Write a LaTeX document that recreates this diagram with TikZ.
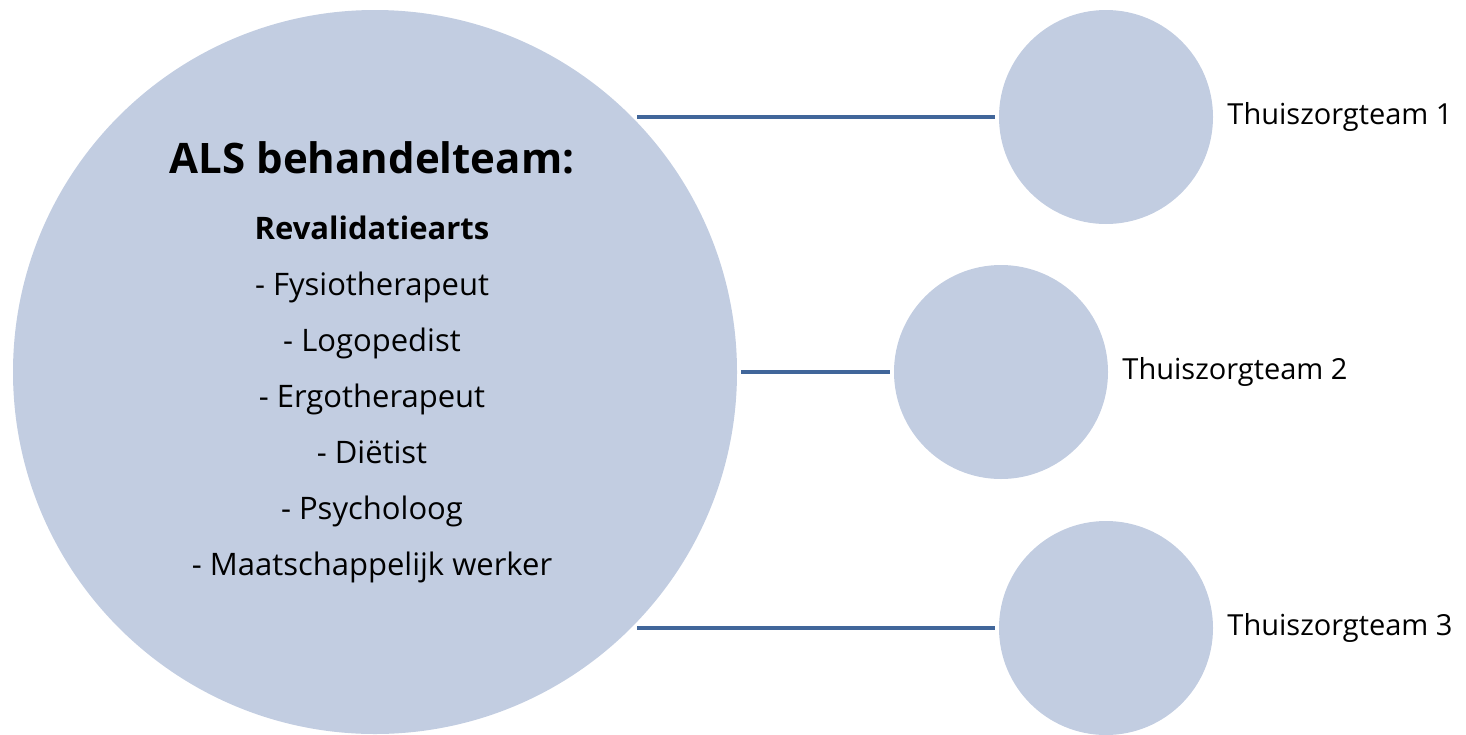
\documentclass[tikz,border=0pt]{standalone}
\usepackage{fontspec}
\setmainfont{Open Sans}
\usetikzlibrary{positioning}
\definecolor{cirkelblauw}{HTML}{C2CDE1}
\definecolor{lijnblauw}{HTML}{41669A}
\tikzset{
	grotecirkel/.style={
		circle,
		fill=cirkelblauw,
		minimum size=362pt,
		inner sep=0pt},
	kleinecirkel/.style={
		circle,
		fill=cirkelblauw,
		minimum size=107pt,
		inner sep=0pt},
	teamlabel/.style={font=\fontsize{14.5}{17}\selectfont},
	line/.style={draw=lijnblauw, line width=2pt},
}

\begin{document}
\begin{tikzpicture}
	[x=0.5pt, y=-0.5pt]
	\useasboundingbox (0,0) rectangle (1466,734);
	
	\node[grotecirkel] (als) at (375,372) {};
	\node[align=center, font=\fontsize{15.5}{28}\selectfont] (alstekst) at (372,362)
		{{\fontsize{21}{22}\selectfont\bfseries ALS behandelteam:}\\[5pt]
		 \textbf{Revalidatiearts}\\
		 - Fysiotherapeut\\
		 - Logopedist\\
		 - Ergotherapeut\\
		 - Diëtist\\
		 - Psycholoog\\
		 - Maatschappelijk werker};
	
	\node[kleinecirkel] (team1) at (1106,117) {};
	\node[kleinecirkel] (team2) at (1001,372) {};
	\node[kleinecirkel] (team3) at (1106,628) {};
	
	\node[teamlabel, right=3.5pt of team1] (label1) {Thuiszorgteam 1};
	\node[teamlabel, right=3.5pt of team2] (label2) {Thuiszorgteam 2};
	\node[teamlabel, right=3.5pt of team3] (label3) {Thuiszorgteam 3};
	
	\draw[line, shorten <=3pt, shorten >=2pt] (als.45 |- team1.west) -- (team1.west);
	\draw[line, shorten <=2pt, shorten >=2pt] (als.east) -- (team2.west);
	\draw[line, shorten <=3pt, shorten >=2pt] (als.-45 |- team3.west) -- (team3.west);
	
\end{tikzpicture}
\end{document}
